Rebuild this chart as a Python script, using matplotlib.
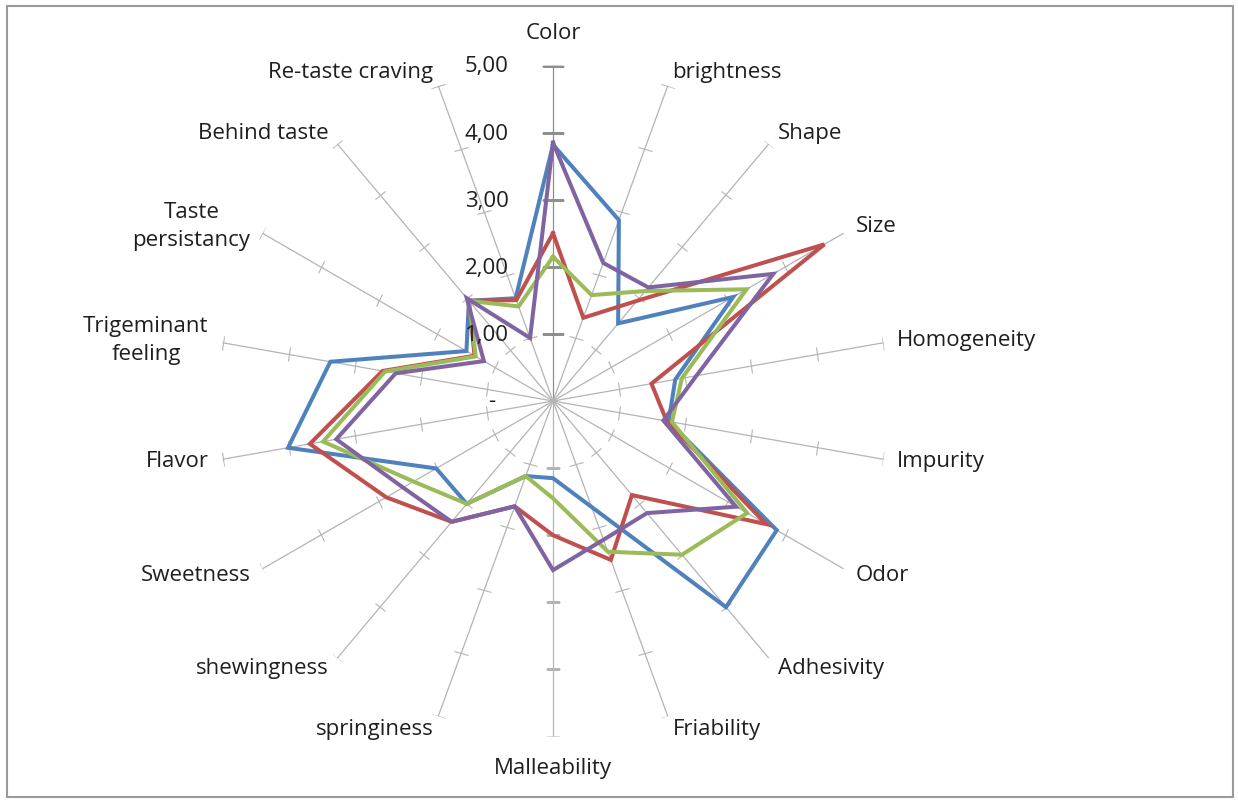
"""
Sensory profile radar chart (Excel style): 18 attributes, four samples.
Output: out.png
"""

import numpy as np
import matplotlib
matplotlib.use("Agg")
import matplotlib.pyplot as plt
from matplotlib.markers import MarkerStyle
from matplotlib.transforms import Affine2D
from matplotlib.patches import Rectangle

plt_params = {
    "font.family": ["Open Sans", "DejaVu Sans"],
    "font.size": 16,
    "text.color": "#1f1f1f",
}

categories = [
    "Color", "brightness", "Shape", "Size", "Homogeneity", "Impurity",
    "Odor", "Adhesivity", "Friability", "Malleability", "springiness",
    "shewingness", "Sweetness", "Flavor", "Trigeminant\nfeeling",
    "Taste\npersistancy", "Behind taste", "Re-taste craving",
]

# values, one list per sample
blue_vals = [3.82, 2.87, 1.51, 3.10, 1.85, 1.75, 3.85, 4.01, 1.68, 1.15,
             1.19, 2.00, 2.01, 4.01, 3.37, 1.49, 1.95, 1.63]
red_vals = [2.50, 1.32, 1.95, 4.67, 1.49, 1.72, 3.67, 1.83, 2.52, 2.00,
            1.67, 2.35, 2.87, 3.68, 2.58, 1.35, 1.95, 1.60]
green_vals = [2.15, 1.68, 2.14, 3.33, 1.95, 1.80, 3.34, 2.99, 2.39, 1.45,
              1.19, 2.00, 2.40, 3.48, 2.54, 1.33, 1.95, 1.50]
purple_vals = [3.85, 2.19, 2.21, 3.79, 2.17, 1.67, 3.15, 2.18, 2.20, 2.52,
               1.67, 2.35, 2.58, 3.28, 2.38, 1.19, 2.00, 1.00]

tick_vals = [1, 2, 3, 4, 5]
tick_labels = ["1,00", "2,00", "3,00", "4,00", "5,00"]

series = [
    (blue_vals, "#4F81BD"),
    (red_vals, "#C0504D"),
    (green_vals, "#9BBB59"),
    (purple_vals, "#8064A2"),
]

plt.rcParams.update(plt_params)

n = len(categories)
angles = np.deg2rad(np.arange(n) * 360.0 / n)

fig = plt.figure(figsize=(12.38, 8.01), dpi=100)
ax = fig.add_axes([0.1757, 0.0805, 0.5420, 0.8377], projection="polar")
ax.set_theta_zero_location("N")
ax.set_theta_direction(-1)
ax.set_ylim(0, 5)
ax.grid(False)
ax.set_xticks([])
ax.set_yticks([])
ax.spines["polar"].set_visible(False)
ax.patch.set_alpha(0)

# spokes with cross ticks (value axis on top is darker)
for i, a in enumerate(angles):
    col = "#8f8f8f" if i == 0 else "#b4b4b4"
    ms = 16 if i == 0 else 10
    ax.plot([a, a], [0, 5], color=col, lw=0.9, zorder=1)
    m = MarkerStyle("_", transform=Affine2D().rotate_deg(-np.degrees(a)))
    ax.plot(np.full(len(tick_vals), a), tick_vals, ls="none", marker=m,
            ms=ms, mec=col, mew=0.8, zorder=1)

# data series
for vals, col in series:
    ax.plot(np.append(angles, angles[0]), vals + vals[:1], color=col,
            lw=2.9, solid_joinstyle="miter", zorder=3)

# category labels
for a, lab in zip(angles, categories):
    s = np.sin(a)
    if abs(s) < 1e-6:
        ax.text(a, 5.47, lab, ha="center", va="center")
    else:
        ax.text(a, 5.21, lab, ha="left" if s > 0 else "right",
                va="center", multialignment="center", linespacing=1.45)

# value labels beside the top axis
for v, lab in zip(tick_vals, tick_labels):
    ax.annotate(lab, xy=(0, v), xytext=(-32, -1), textcoords="offset points",
                ha="right", va="center")
ax.annotate("-", xy=(0, 0), xytext=(-44, 0), textcoords="offset points",
            ha="center", va="center")

# chart frame
fig.add_artist(Rectangle((7 / 1238, 4 / 801), 1226 / 1238, 791 / 801,
                         transform=fig.transFigure, fill=False,
                         edgecolor="#9a9a9a", lw=1.5))

fig.savefig("out.png", dpi=100)
plt.close(fig)
